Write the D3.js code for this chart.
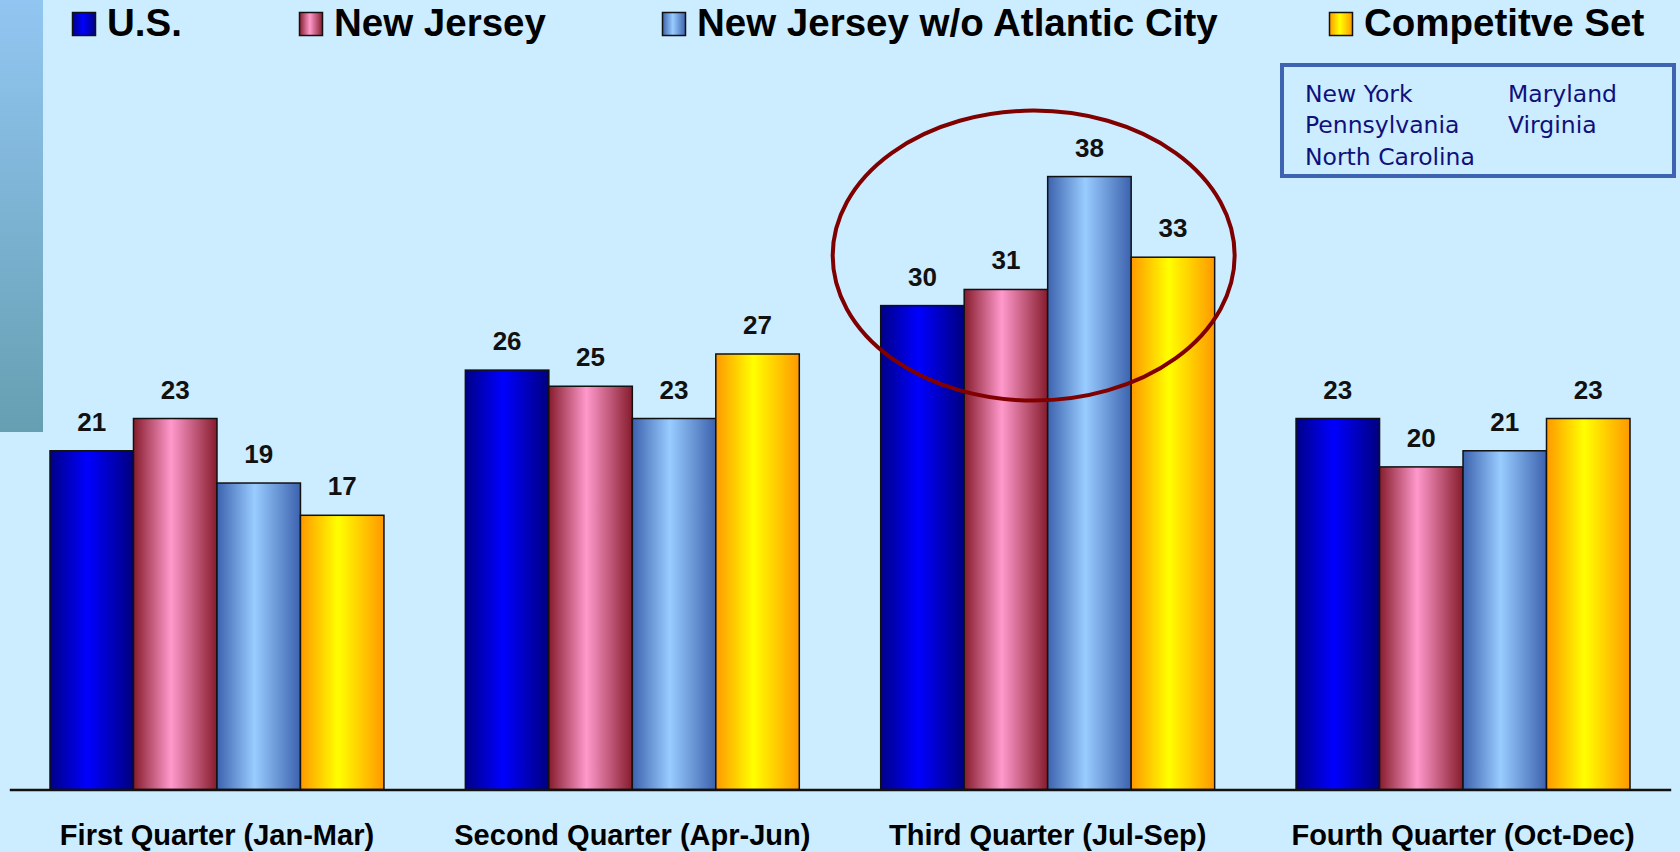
<!doctype html>
<html>
<head>
<meta charset="utf-8"/>
<title>Quarterly comparison</title>
<script src="https://d3js.org/d3.v7.min.js"></script>
<style>
body { margin: 0; background: #ccecff; }
svg { display: block; }
</style>
</head>
<body>
<svg id="chart"></svg>
<script>
// data
const quarters = ['First Quarter (Jan-Mar)', 'Second Quarter (Apr-Jun)', 'Third Quarter (Jul-Sep)', 'Fourth Quarter (Oct-Dec)'];
const seriesNames = ['U.S.', 'New Jersey', 'New Jersey w/o Atlantic City', 'Competitve Set'];
const usValues = [21, 26, 30, 23];
const njValues = [23, 25, 31, 20];
const njNoAcValues = [19, 23, 38, 21];
const compSetValues = [17, 27, 33, 23];
const compSetStates = [['New York', 'Maryland'], ['Pennsylvania', 'Virginia'], ['North Carolina', '']];

const allValues = [usValues, njValues, njNoAcValues, compSetValues];

// gradient colours per series: edge, centre, edge
const gradStops = [
    ['#000088', '#0000ff', '#000080'],
    ['#861c2c', '#ff99cc', '#861c2c'],
    ['#3c62ae', '#99ccff', '#3c62ae'],
    ['#ff9900', '#ffff00', '#ff9900']
];

const W = 1680, H = 852;
const svg = d3.select('#chart').attr('width', W).attr('height', H);

const defs = svg.append('defs');
gradStops.forEach(function(c, i) {
    let g = defs.append('linearGradient').attr('id', 'g' + i)
        .attr('x1', 0).attr('x2', 1).attr('y1', 0).attr('y2', 0);
    g.append('stop').attr('offset', '0%').attr('stop-color', c[0]);
    g.append('stop').attr('offset', '45%').attr('stop-color', c[1]);
    g.append('stop').attr('offset', '100%').attr('stop-color', c[2]);
});
let sg = defs.append('linearGradient').attr('id', 'strip')
    .attr('x1', 0).attr('x2', 0).attr('y1', 0).attr('y2', 1);
sg.append('stop').attr('offset', '0%').attr('stop-color', '#92c6f2');
sg.append('stop').attr('offset', '100%').attr('stop-color', '#669fb2');

// background + left strip
svg.append('rect').attr('width', W).attr('height', H).attr('fill', '#ccecff');
svg.append('rect').attr('x', 0).attr('y', 0).attr('width', 43).attr('height', 432).attr('fill', 'url(#strip)');

// scales
const x = d3.scaleBand().domain(quarters).range([9.3, 1670.7])
    .paddingInner(0.196).paddingOuter(0.098);
const xs = d3.scaleBand().domain(d3.range(seriesNames.length)).range([0, x.bandwidth()]);
const y = d3.scaleLinear().domain([0, 40]).range([789.5, 789.5 - 40 * 16.13]);

// bars
const groups = svg.append('g').selectAll('g')
    .data(quarters)
    .join('g')
    .attr('transform', d => 'translate(' + x(d) + ',0)');

groups.selectAll('rect')
    .data((q, qi) => allValues.map((vals, si) => ({ s: si, v: vals[qi] })))
    .join('rect')
    .attr('x', d => xs(d.s))
    .attr('y', d => y(d.v))
    .attr('width', xs.bandwidth())
    .attr('height', d => y(0) - y(d.v))
    .attr('fill', d => 'url(#g' + d.s + ')')
    .attr('stroke', '#111')
    .attr('stroke-width', 1.5);

groups.selectAll('text')
    .data((q, qi) => allValues.map((vals, si) => ({ s: si, v: vals[qi] })))
    .join('text')
    .attr('x', d => xs(d.s) + xs.bandwidth() / 2)
    .attr('y', d => y(d.v) - 20)
    .attr('text-anchor', 'middle')
    .style('font-family', '"Liberation Sans", Arial, sans-serif')
    .style('font-weight', 'bold')
    .style('font-size', '26px')
    .style('fill', '#111')
    .text(d => d.v);

// x axis
const xAxis = svg.append('g')
    .attr('transform', 'translate(0,' + y(0) + ')')
    .call(d3.axisBottom(x).tickSize(0).tickSizeOuter(0));
xAxis.select('.domain').attr('stroke', '#111').attr('stroke-width', 2.5);
xAxis.selectAll('text')
    .attr('y', 55.5).attr('dy', 0)
    .style('font-family', '"Liberation Sans", Arial, sans-serif')
    .style('font-weight', 'bold')
    .style('font-size', '29px')
    .style('fill', '#000');

// highlight ring round the third quarter
svg.append('ellipse')
    .attr('cx', x(quarters[2]) + x.bandwidth() / 2 - 14)
    .attr('cy', y(33.1))
    .attr('rx', 201)
    .attr('ry', 145)
    .attr('fill', 'none')
    .attr('stroke', '#800000')
    .attr('stroke-width', 4);

// legend
const legendX = [72, 299, 662, 1329];
const legend = svg.append('g').selectAll('g')
    .data(seriesNames)
    .join('g')
    .attr('transform', (d, i) => 'translate(' + legendX[i] + ',0)');
legend.append('rect')
    .attr('x', 0.5).attr('y', 12.5)
    .attr('width', 23).attr('height', 23)
    .attr('fill', (d, i) => 'url(#g' + i + ')')
    .attr('stroke', '#111').attr('stroke-width', 1.5);
legend.append('text')
    .attr('x', 35).attr('y', 36)
    .style('font-family', '"Liberation Sans", Arial, sans-serif')
    .style('font-weight', 'bold')
    .style('font-size', '38.5px')
    .style('fill', '#000')
    .text(d => d);

// competitive set box
const box = svg.append('g');
box.append('rect')
    .attr('x', 1282).attr('y', 65).attr('width', 392).attr('height', 111)
    .attr('fill', 'none').attr('stroke', '#3d63b1').attr('stroke-width', 4);
compSetStates.forEach(function(row, r) {
    row.forEach(function(name, c) {
        box.append('text')
            .attr('x', c == 0 ? 1305 : 1508)
            .attr('y', 101.5 + r * 31.5)
            .style('font-family', '"DejaVu Sans", Verdana, sans-serif')
            .style('font-size', '23.5px')
            .style('fill', '#10107a')
            .text(name);
    });
});
</script>
</body>
</html>
